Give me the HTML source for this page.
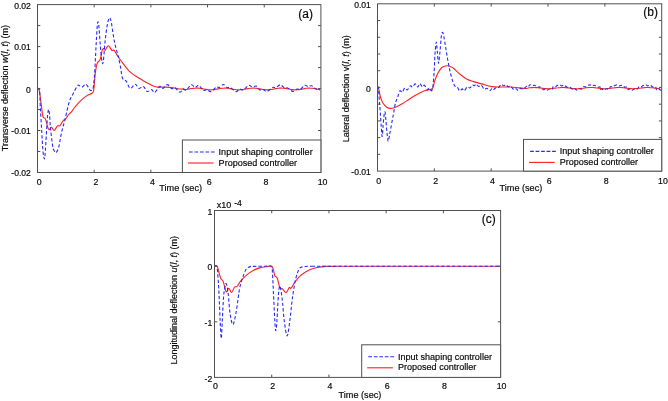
<!DOCTYPE html>
<html><head><meta charset="utf-8"><title>Figure</title>
<style>
html,body{margin:0;padding:0;background:#fff;}
svg{display:block;}
text{font-family:"Liberation Sans", Arial, Helvetica, sans-serif;fill:#0a0a0a;stroke:#0a0a0a;stroke-width:0.18px;}
</style></head>
<body>
<svg width="668" height="401" viewBox="0 0 668 401">
<rect width="668" height="401" fill="#fff"/>
<path d="M37.5,89.0C37.8,89.2 38.5,87.7 39.1,90.0C39.7,92.3 40.4,98.2 41.0,102.6C41.6,107.0 42.2,113.7 42.9,116.4C43.6,119.1 44.6,117.0 45.4,118.9C46.2,120.8 47.2,125.9 47.9,127.7C48.6,129.5 49.0,129.7 49.6,129.6C50.2,129.5 50.5,126.9 51.3,127.1C52.1,127.2 53.2,130.7 54.2,130.5C55.2,130.3 56.5,126.6 57.4,125.8C58.3,125.0 59.0,126.6 59.9,125.8C60.8,125.0 62.0,121.9 63.0,120.8C64.0,119.7 64.6,120.0 65.6,118.9C66.5,117.9 67.7,115.8 68.7,114.5C69.7,113.2 70.8,112.7 71.8,111.4C72.8,110.2 73.6,108.7 75.0,107.0C76.4,105.3 78.1,103.1 80.0,101.3C81.9,99.5 84.3,97.4 86.3,96.1C88.3,94.8 90.8,94.2 92.0,93.2C93.2,92.2 93.2,93.2 93.7,90.2C94.2,87.2 94.5,79.6 95.1,75.2C95.6,70.8 96.2,66.4 97.0,63.8C97.8,61.2 99.4,61.4 100.2,59.4C101.0,57.4 101.4,53.3 101.9,51.5C102.4,49.7 102.7,48.6 103.2,48.4C103.7,48.2 104.5,50.5 105.1,50.3C105.7,50.1 106.4,47.9 107.0,47.1C107.6,46.4 108.1,45.7 108.6,45.8C109.1,45.9 109.5,46.9 110.1,47.7C110.7,48.5 111.4,50.1 112.0,50.5C112.6,50.9 113.3,49.6 113.9,50.0C114.5,50.4 115.1,51.6 115.8,52.8C116.5,54.0 117.0,55.2 118.3,57.0C119.5,58.8 121.5,61.5 123.3,63.8C125.1,66.1 126.9,68.8 128.9,70.8C130.9,72.8 133.1,74.3 135.2,75.8C137.3,77.3 139.4,78.3 141.5,79.6C143.6,80.8 145.9,82.3 147.8,83.3C149.7,84.3 151.1,85.2 152.8,85.8C154.5,86.4 155.8,86.9 157.9,87.1C160.0,87.3 162.9,87.0 165.4,87.1C167.9,87.2 170.5,87.4 173.0,87.7C175.5,88.0 178.7,88.8 180.5,89.0C182.3,89.2 183.1,89.1 184.0,89.2C184.9,89.3 185.3,89.6 186.0,89.6C186.7,89.6 187.3,89.4 188.0,89.2C188.7,89.1 189.3,89.0 190.0,88.8C190.7,88.7 191.3,88.6 192.0,88.5C192.7,88.4 193.3,88.3 194.0,88.2C194.7,88.1 195.3,88.1 196.0,88.1C196.7,88.0 197.3,88.1 198.0,88.1C198.7,88.1 199.3,88.2 200.0,88.3C200.7,88.4 201.3,88.5 202.0,88.6C202.7,88.8 203.3,88.9 204.0,89.0C204.7,89.2 205.3,89.3 206.0,89.4C206.7,89.5 207.3,89.6 208.0,89.7C208.7,89.8 209.3,89.8 210.0,89.8C210.7,89.9 211.3,89.8 212.0,89.8C212.7,89.8 213.3,89.7 214.0,89.6C214.7,89.5 215.3,89.4 216.0,89.3C216.7,89.2 217.3,89.0 218.0,88.9C218.7,88.8 219.3,88.6 220.0,88.5C220.7,88.4 221.3,88.3 222.0,88.2C222.7,88.1 223.3,88.1 224.0,88.1C224.7,88.0 225.3,88.0 226.0,88.1C226.7,88.1 227.3,88.2 228.0,88.3C228.7,88.4 229.3,88.5 230.0,88.6C230.7,88.7 231.3,88.8 232.0,89.0C232.7,89.1 233.3,89.2 234.0,89.4C234.7,89.5 235.3,89.6 236.0,89.7C236.7,89.7 237.3,89.8 238.0,89.8C238.7,89.9 239.3,89.9 240.0,89.8C240.7,89.8 241.3,89.7 242.0,89.7C242.7,89.6 243.3,89.5 244.0,89.3C244.7,89.2 245.3,89.1 246.0,89.0C246.7,88.8 247.3,88.7 248.0,88.6C248.7,88.5 249.3,88.3 250.0,88.3C250.7,88.2 251.3,88.1 252.0,88.1C252.7,88.0 253.3,88.0 254.0,88.1C254.7,88.1 255.3,88.2 256.0,88.2C256.7,88.3 257.3,88.4 258.0,88.5C258.7,88.6 259.3,88.8 260.0,88.9C260.7,89.0 261.3,89.2 262.0,89.3C262.7,89.4 263.3,89.5 264.0,89.6C264.7,89.7 265.3,89.8 266.0,89.8C266.7,89.9 267.3,89.9 268.0,89.8C268.7,89.8 269.3,89.8 270.0,89.7C270.7,89.6 271.3,89.5 272.0,89.4C272.7,89.3 273.3,89.1 274.0,89.0C274.7,88.9 275.3,88.7 276.0,88.6C276.7,88.5 277.3,88.4 278.0,88.3C278.7,88.2 279.3,88.1 280.0,88.1C280.7,88.1 281.3,88.0 282.0,88.1C282.7,88.1 283.3,88.1 284.0,88.2C284.7,88.3 285.3,88.4 286.0,88.5C286.7,88.6 287.3,88.7 288.0,88.9C288.7,89.0 289.3,89.1 290.0,89.2C290.7,89.4 291.3,89.5 292.0,89.6C292.7,89.7 293.3,89.8 294.0,89.8C294.7,89.8 295.3,89.9 296.0,89.8C296.7,89.8 297.3,89.8 298.0,89.7C298.7,89.7 299.3,89.6 300.0,89.4C300.7,89.3 301.3,89.2 302.0,89.1C302.7,88.9 303.3,88.8 304.0,88.7C304.7,88.6 305.3,88.4 306.0,88.3C306.7,88.2 307.3,88.2 308.0,88.1C308.7,88.1 309.3,88.0 310.0,88.1C310.7,88.1 311.3,88.1 312.0,88.2C312.7,88.2 313.3,88.3 314.0,88.4C314.7,88.5 315.3,88.7 316.0,88.8C316.7,88.9 317.3,89.1 318.0,89.2C318.7,89.3 319.7,89.5 320.0,89.5" fill="none" stroke="#ff2222" stroke-width="1.12" stroke-linejoin="round"/>
<path d="M37.5,89.0C37.8,89.2 39.0,86.7 39.5,90.0C40.0,93.3 40.0,102.1 40.4,108.9C40.8,115.7 41.3,124.1 41.7,131.0C42.1,137.9 42.5,145.5 42.9,150.2C43.3,154.9 44.0,159.0 44.4,159.0C44.8,159.0 45.0,155.3 45.4,150.2C45.8,145.1 46.3,134.3 46.7,128.5C47.1,122.7 47.3,118.4 47.6,115.2C47.9,112.0 48.3,109.5 48.6,109.5C48.9,109.5 49.3,112.0 49.6,115.2C49.9,118.4 50.0,123.7 50.5,128.5C51.0,133.3 51.9,140.4 52.4,143.9C52.9,147.4 53.0,148.0 53.6,149.5C54.2,151.0 55.1,153.0 55.9,152.7C56.7,152.4 57.8,150.1 58.6,147.6C59.4,145.1 59.9,140.7 60.5,137.6C61.1,134.5 61.7,131.7 62.4,128.8C63.1,125.9 64.1,123.5 64.9,120.2C65.7,116.9 66.6,112.3 67.4,108.9C68.2,105.5 69.1,102.2 70.0,99.7C70.9,97.2 71.8,96.2 73.0,94.0C74.2,91.8 75.9,88.0 76.9,86.5C77.9,85.0 78.0,85.1 78.8,85.2C79.6,85.3 80.8,87.3 81.9,87.1C83.1,86.9 84.6,84.1 85.7,84.2C86.8,84.3 87.7,86.5 88.5,87.5C89.3,88.5 89.9,90.5 90.7,90.5C91.5,90.5 92.6,90.2 93.2,87.7C93.8,85.2 94.1,80.3 94.5,75.2C94.9,70.1 95.2,62.6 95.5,57.0C95.8,51.4 96.0,46.7 96.3,41.4C96.6,36.1 97.0,28.4 97.3,25.1C97.6,21.9 97.9,21.3 98.2,21.9C98.5,22.5 98.8,25.0 99.1,28.9C99.4,32.8 99.9,40.4 100.3,45.2C100.7,50.1 101.1,54.9 101.5,58.0C101.9,61.1 102.2,63.8 102.6,63.8C103.0,63.8 103.3,61.7 103.7,58.0C104.1,54.3 104.5,46.7 105.1,41.4C105.6,36.1 106.4,30.2 107.0,26.4C107.6,22.6 108.4,20.2 108.9,18.8C109.4,17.4 109.7,17.6 110.1,18.2C110.5,18.8 110.9,19.8 111.4,22.6C111.9,25.4 112.7,31.4 113.3,35.2C113.9,39.0 114.5,42.2 115.2,45.2C115.9,48.2 116.7,50.7 117.3,53.0C117.9,55.3 118.3,56.1 118.9,58.8C119.5,61.4 120.2,65.7 120.8,68.9C121.4,72.2 121.7,76.2 122.6,78.3C123.5,80.4 125.1,79.7 126.4,81.4C127.7,83.1 128.7,87.9 130.2,88.4C131.7,88.9 133.7,84.2 135.2,84.2C136.7,84.2 137.6,88.0 139.0,88.4C140.4,88.8 142.0,86.0 143.4,86.5C144.8,87.0 145.8,91.0 147.2,91.5C148.6,92.0 150.3,89.4 151.6,89.6C152.8,89.8 153.3,93.0 154.7,92.5C156.0,92.0 158.3,87.2 159.7,86.5C161.1,85.8 161.6,88.7 162.9,88.4C164.2,88.1 165.8,84.5 167.3,84.6C168.8,84.6 170.4,88.2 171.7,88.7C172.9,89.2 173.4,87.1 174.8,87.7C176.2,88.3 178.5,91.9 179.9,92.1C181.3,92.3 182.0,89.2 183.1,88.9C184.2,88.6 184.9,90.8 186.3,90.1C187.7,89.4 189.8,85.2 191.3,84.8C192.8,84.3 193.8,87.3 195.1,87.4C196.4,87.5 197.5,84.8 198.9,85.3C200.3,85.8 202.0,89.7 203.3,90.4C204.7,91.1 205.8,89.3 207.0,89.5C208.2,89.7 209.2,92.0 210.8,91.6C212.4,91.2 215.1,87.7 216.5,87.0C217.9,86.3 217.8,88.0 219.0,87.6C220.2,87.2 222.0,84.5 223.4,84.5C224.8,84.5 226.0,87.1 227.2,87.6C228.3,88.1 228.8,86.9 230.3,87.6C231.8,88.3 234.4,91.3 236.0,91.6C237.6,91.8 238.4,89.4 239.7,89.1C240.9,88.8 242.0,90.5 243.5,89.9C245.0,89.3 247.1,85.8 248.6,85.3C250.1,84.8 251.1,86.9 252.3,87.0C253.6,87.1 254.9,85.6 256.1,86.1C257.3,86.6 258.4,89.3 259.6,89.9C260.8,90.5 262.0,89.2 263.2,89.5C264.4,89.8 265.4,91.8 267.0,91.4C268.6,91.1 271.1,88.0 272.6,87.4C274.1,86.8 274.5,88.0 275.8,87.6C277.1,87.2 278.8,84.8 280.2,84.8C281.6,84.8 282.8,86.9 284.0,87.4C285.2,87.9 286.2,87.2 287.7,87.9C289.2,88.6 291.2,91.2 292.8,91.4C294.4,91.6 295.9,89.4 297.2,89.1C298.4,88.8 299.1,90.1 300.3,89.5C301.6,88.9 303.4,85.8 304.7,85.3C306.0,84.8 306.8,86.5 307.9,86.6C309.0,86.7 310.2,85.4 311.6,85.8C313.0,86.2 314.6,88.4 316.0,89.1C317.4,89.8 319.3,89.8 320.0,89.9" fill="none" stroke="#2828ff" stroke-width="1.1" stroke-dasharray="3.3 2.1" stroke-linejoin="round"/>
<g stroke="#505050" stroke-width="1" fill="none">
<rect x="37.5" y="4.6" width="283.4" height="167.9"/>
<line x1="94.18" y1="172.50" x2="94.18" y2="169.70" />
<line x1="94.18" y1="4.60" x2="94.18" y2="7.40" />
<line x1="150.86" y1="172.50" x2="150.86" y2="169.70" />
<line x1="150.86" y1="4.60" x2="150.86" y2="7.40" />
<line x1="207.54" y1="172.50" x2="207.54" y2="169.70" />
<line x1="207.54" y1="4.60" x2="207.54" y2="7.40" />
<line x1="264.22" y1="172.50" x2="264.22" y2="169.70" />
<line x1="264.22" y1="4.60" x2="264.22" y2="7.40" />
<line x1="37.50" y1="25.59" x2="40.30" y2="25.59" />
<line x1="320.90" y1="25.59" x2="318.10" y2="25.59" />
<line x1="37.50" y1="46.58" x2="40.30" y2="46.58" />
<line x1="320.90" y1="46.58" x2="318.10" y2="46.58" />
<line x1="37.50" y1="67.56" x2="40.30" y2="67.56" />
<line x1="320.90" y1="67.56" x2="318.10" y2="67.56" />
<line x1="37.50" y1="88.55" x2="40.30" y2="88.55" />
<line x1="320.90" y1="88.55" x2="318.10" y2="88.55" />
<line x1="37.50" y1="109.54" x2="40.30" y2="109.54" />
<line x1="320.90" y1="109.54" x2="318.10" y2="109.54" />
<line x1="37.50" y1="130.53" x2="40.30" y2="130.53" />
<line x1="320.90" y1="130.53" x2="318.10" y2="130.53" />
<line x1="37.50" y1="151.51" x2="40.30" y2="151.51" />
<line x1="320.90" y1="151.51" x2="318.10" y2="151.51" />
</g>
<text x="39.20" y="184.80" font-size="8.8" text-anchor="middle" >0</text>
<text x="95.88" y="184.80" font-size="8.8" text-anchor="middle" >2</text>
<text x="152.56" y="184.80" font-size="8.8" text-anchor="middle" >4</text>
<text x="209.24" y="184.80" font-size="8.8" text-anchor="middle" >6</text>
<text x="265.92" y="184.80" font-size="8.8" text-anchor="middle" >8</text>
<text x="322.60" y="184.80" font-size="8.8" text-anchor="middle" >10</text>
<text x="30.90" y="8.70" font-size="8.6" text-anchor="end" >0.02</text>
<text x="30.90" y="50.10" font-size="8.6" text-anchor="end" >0.01</text>
<text x="30.90" y="92.60" font-size="8.6" text-anchor="end" >0</text>
<text x="30.90" y="134.40" font-size="8.6" text-anchor="end" >-0.01</text>
<text x="30.90" y="175.90" font-size="8.6" text-anchor="end" >-0.02</text>
<text x="180.65" y="191.40" font-size="9.15" text-anchor="middle" >Time (sec)</text>
<text transform="translate(8.00,88.00) rotate(-90)" font-size="9" text-anchor="middle">Transverse deflection <tspan font-style="italic">w</tspan>(<tspan font-style="italic">l</tspan>, <tspan font-style="italic">t</tspan>) (m)</text>
<text x="313.00" y="17.50" font-size="12" text-anchor="end" >(a)</text>
<rect x="182.4" y="140.0" width="138.49999999999997" height="32.5" fill="#fff" stroke="#505050" stroke-width="1"/>
<line x1="189.0" y1="152.0" x2="215.10000000000002" y2="152.0" stroke="#2828ff" stroke-width="1.1" stroke-dasharray="3.7 1.8"/>
<line x1="187.9" y1="163.0" x2="213.6" y2="163.0" stroke="#ff2222" stroke-width="1.12"/>
<text x="218.60" y="154.70" font-size="9.05" text-anchor="start" >Input shaping controller</text>
<text x="218.60" y="165.60" font-size="9.05" text-anchor="start" >Proposed controller</text>
<path d="M377.5,87.5C377.6,87.5 377.9,86.2 378.4,87.7C378.9,89.2 379.6,94.0 380.3,96.5C381.0,99.0 381.8,101.0 382.8,102.8C383.9,104.6 385.3,106.3 386.6,107.2C387.9,108.1 389.0,108.4 390.4,108.4C391.8,108.5 392.9,108.2 394.8,107.5C396.7,106.8 399.3,105.4 401.7,104.0C404.1,102.6 406.7,100.8 409.2,99.2C411.7,97.6 414.3,96.0 416.8,94.6C419.3,93.2 422.0,91.7 424.3,90.8C426.6,89.9 429.2,89.9 430.6,89.4C432.0,88.9 432.2,89.2 432.9,87.7C433.6,86.2 434.1,82.6 435.0,80.1C435.9,77.6 437.1,74.7 438.2,72.6C439.3,70.5 440.4,68.7 441.9,67.5C443.4,66.3 445.3,65.7 447.0,65.7C448.7,65.7 450.8,66.8 452.0,67.3C453.2,67.8 452.7,67.6 454.1,68.8C455.5,70.0 458.3,72.8 460.4,74.5C462.5,76.2 464.5,77.8 466.6,78.9C468.7,80.1 470.4,80.6 472.9,81.4C475.4,82.2 478.5,83.0 481.7,83.9C484.9,84.8 488.6,86.1 491.8,86.6C495.0,87.1 497.5,86.9 500.6,87.0C503.8,87.1 507.6,86.8 510.7,87.0C513.9,87.2 517.0,87.7 519.5,87.9C522.0,88.2 524.6,88.5 526.0,88.5C527.4,88.5 527.3,88.1 528.0,88.0C528.7,87.8 529.3,87.8 530.0,87.7C530.7,87.7 531.3,87.6 532.0,87.6C532.7,87.5 533.3,87.5 534.0,87.5C534.7,87.5 535.3,87.5 536.0,87.6C536.7,87.6 537.3,87.7 538.0,87.7C538.7,87.8 539.3,87.9 540.0,88.0C540.7,88.0 541.3,88.1 542.0,88.2C542.7,88.3 543.3,88.4 544.0,88.5C544.7,88.5 545.3,88.6 546.0,88.6C546.7,88.7 547.3,88.7 548.0,88.7C548.7,88.7 549.3,88.7 550.0,88.7C550.7,88.6 551.3,88.6 552.0,88.5C552.7,88.4 553.3,88.4 554.0,88.3C554.7,88.2 555.3,88.1 556.0,88.0C556.7,87.9 557.3,87.8 558.0,87.8C558.7,87.7 559.3,87.6 560.0,87.6C560.7,87.5 561.3,87.5 562.0,87.5C562.7,87.5 563.3,87.5 564.0,87.5C564.7,87.6 565.3,87.6 566.0,87.7C566.7,87.7 567.3,87.8 568.0,87.9C568.7,88.0 569.3,88.1 570.0,88.2C570.7,88.3 571.3,88.3 572.0,88.4C572.7,88.5 573.3,88.6 574.0,88.6C574.7,88.7 575.3,88.7 576.0,88.7C576.7,88.7 577.3,88.7 578.0,88.7C578.7,88.6 579.3,88.6 580.0,88.5C580.7,88.5 581.3,88.4 582.0,88.3C582.7,88.2 583.3,88.1 584.0,88.1C584.7,88.0 585.3,87.9 586.0,87.8C586.7,87.7 587.3,87.7 588.0,87.6C588.7,87.6 589.3,87.5 590.0,87.5C590.7,87.5 591.3,87.5 592.0,87.5C592.7,87.5 593.3,87.6 594.0,87.6C594.7,87.7 595.3,87.8 596.0,87.9C596.7,87.9 597.3,88.0 598.0,88.1C598.7,88.2 599.3,88.3 600.0,88.4C600.7,88.4 601.3,88.5 602.0,88.6C602.7,88.6 603.3,88.7 604.0,88.7C604.7,88.7 605.3,88.7 606.0,88.7C606.7,88.7 607.3,88.6 608.0,88.6C608.7,88.5 609.3,88.4 610.0,88.4C610.7,88.3 611.3,88.2 612.0,88.1C612.7,88.0 613.3,87.9 614.0,87.9C614.7,87.8 615.3,87.7 616.0,87.6C616.7,87.6 617.3,87.5 618.0,87.5C618.7,87.5 619.3,87.5 620.0,87.5C620.7,87.5 621.3,87.6 622.0,87.6C622.7,87.7 623.3,87.7 624.0,87.8C624.7,87.9 625.3,88.0 626.0,88.1C626.7,88.1 627.3,88.2 628.0,88.3C628.7,88.4 629.3,88.5 630.0,88.5C630.7,88.6 631.3,88.6 632.0,88.7C632.7,88.7 633.3,88.7 634.0,88.7C634.7,88.7 635.3,88.7 636.0,88.6C636.7,88.6 637.3,88.5 638.0,88.4C638.7,88.3 639.3,88.3 640.0,88.2C640.7,88.1 641.3,88.0 642.0,87.9C642.7,87.8 643.3,87.7 644.0,87.7C644.7,87.6 645.3,87.6 646.0,87.5C646.7,87.5 647.3,87.5 648.0,87.5C648.7,87.5 649.3,87.5 650.0,87.6C650.7,87.6 651.3,87.7 652.0,87.8C652.7,87.8 653.3,87.9 654.0,88.0C654.7,88.1 655.3,88.2 656.0,88.3C656.7,88.4 657.3,88.4 658.0,88.5C658.7,88.6 659.7,88.6 660.0,88.7" fill="none" stroke="#ff2222" stroke-width="1.12" stroke-linejoin="round"/>
<path d="M377.5,87.5C377.6,87.5 378.1,85.6 378.4,87.7C378.7,89.8 379.0,95.8 379.3,100.0C379.6,104.2 380.0,108.0 380.3,112.6C380.6,117.2 381.0,123.7 381.3,127.7C381.6,131.7 381.9,136.9 382.2,136.5C382.5,136.1 382.8,128.8 383.1,125.2C383.4,121.6 383.8,117.3 384.1,115.1C384.4,112.9 384.8,111.0 385.1,112.0C385.4,113.0 385.7,118.0 386.0,121.4C386.3,124.9 386.6,129.4 387.0,132.7C387.4,136.0 387.8,141.1 388.2,141.3C388.6,141.5 389.1,136.9 389.7,134.0C390.3,131.1 391.0,127.3 391.6,123.9C392.2,120.5 393.0,116.7 393.5,113.8C394.0,110.9 394.4,108.4 394.8,106.3C395.2,104.2 395.5,102.9 396.0,101.3C396.5,99.7 397.3,98.2 397.9,96.5C398.5,94.8 399.1,91.5 399.8,90.8C400.5,90.1 401.5,92.6 402.3,92.1C403.1,91.6 404.0,88.3 404.8,87.9C405.6,87.5 406.4,90.2 407.3,89.9C408.2,89.6 409.6,86.3 410.5,85.8C411.4,85.3 411.6,87.3 412.4,87.0C413.2,86.7 414.4,83.9 415.3,83.9C416.2,83.9 417.0,87.0 417.8,87.0C418.6,87.0 419.1,83.6 419.9,83.6C420.7,83.6 421.7,86.7 422.4,87.0C423.1,87.3 423.4,84.8 424.3,85.2C425.2,85.6 426.7,89.1 427.5,89.6C428.3,90.1 428.6,88.1 429.3,88.3C430.0,88.5 431.0,91.3 431.6,90.8C432.2,90.3 432.7,88.2 433.1,85.2C433.5,82.2 433.8,76.8 434.1,72.6C434.4,68.4 434.5,63.5 434.7,60.0C434.9,56.5 434.9,54.4 435.2,51.4C435.5,48.4 435.9,42.0 436.3,42.0C436.7,42.0 436.9,47.8 437.3,51.4C437.7,55.0 438.1,63.4 438.5,63.4C438.9,63.4 439.5,55.9 440.0,51.4C440.5,46.9 440.9,39.6 441.3,36.4C441.7,33.2 442.2,32.3 442.6,32.3C443.0,32.3 443.3,33.8 443.8,36.4C444.3,39.0 445.1,43.9 445.7,47.7C446.3,51.5 447.0,55.6 447.6,59.0C448.2,62.4 448.8,65.6 449.3,68.0C449.8,70.4 449.9,71.3 450.5,73.5C451.1,75.7 452.1,79.4 452.8,81.4C453.5,83.5 454.0,84.9 454.7,85.8C455.4,86.7 456.4,86.2 457.2,87.0C458.0,87.8 458.9,90.5 459.7,90.8C460.5,91.1 461.5,88.9 462.2,88.9C462.9,88.9 463.2,91.1 464.1,90.8C465.0,90.5 466.4,87.5 467.3,87.0C468.2,86.5 468.9,88.2 469.8,87.9C470.7,87.6 472.0,85.6 472.7,85.2C473.4,84.8 473.6,86.0 474.2,85.8C474.8,85.6 475.4,84.1 476.1,84.2C476.8,84.3 477.8,86.2 478.6,86.4C479.4,86.6 480.2,84.7 481.1,85.2C482.1,85.7 483.4,88.7 484.3,89.2C485.2,89.7 485.9,88.1 486.8,88.3C487.7,88.5 489.1,90.5 489.9,90.6C490.7,90.7 491.3,88.8 491.8,88.7C492.3,88.6 492.3,90.2 493.1,89.9C493.9,89.6 495.9,87.4 496.8,87.0C497.7,86.6 498.0,87.8 498.7,87.4C499.4,87.0 500.4,84.8 501.2,84.5C502.0,84.2 503.0,85.8 503.7,85.8C504.4,85.8 504.9,84.6 505.6,84.8C506.4,85.0 507.4,86.5 508.2,86.7C509.0,86.9 509.8,85.7 510.7,86.2C511.6,86.7 512.9,89.2 513.8,89.6C514.7,90.0 515.6,88.6 516.3,88.7C517.0,88.8 517.5,90.5 518.2,90.4C518.9,90.3 519.9,88.5 520.7,88.3C521.5,88.1 522.2,89.5 523.2,89.2C524.2,88.9 525.6,86.8 526.4,86.4C527.2,86.0 527.4,87.3 528.0,87.0C528.6,86.7 529.3,84.9 530.0,84.7C530.7,84.5 531.5,85.8 532.2,85.9C533.0,86.0 533.6,85.0 534.5,85.2C535.4,85.4 536.6,86.9 537.5,87.2C538.4,87.5 539.0,86.6 540.0,87.0C541.0,87.4 542.5,89.4 543.4,89.7C544.3,90.0 544.7,88.8 545.4,88.9C546.1,89.0 546.6,90.1 547.4,90.1C548.1,90.1 549.1,88.9 549.9,88.7C550.7,88.5 551.9,89.4 552.4,89.1C552.9,88.8 552.6,87.0 553.1,86.6C553.6,86.2 554.4,87.1 555.1,86.9C555.8,86.7 556.4,86.0 557.1,85.6C557.9,85.2 558.8,84.7 559.6,84.7C560.4,84.8 561.1,85.8 561.8,85.9C562.6,86.0 563.2,85.0 564.1,85.2C565.0,85.4 566.2,86.9 567.1,87.2C568.0,87.5 568.6,86.6 569.6,87.0C570.6,87.4 572.1,89.4 573.0,89.7C573.9,90.0 574.3,88.8 575.0,88.9C575.7,89.0 576.2,90.1 577.0,90.1C577.8,90.1 578.7,88.9 579.5,88.7C580.3,88.5 581.3,89.4 582.0,89.1C582.7,88.8 582.9,87.0 583.5,86.6C584.1,86.2 584.8,87.1 585.5,86.9C586.2,86.7 586.8,86.0 587.5,85.6C588.2,85.2 589.2,84.7 590.0,84.7C590.8,84.8 591.5,85.8 592.2,85.9C593.0,86.0 593.6,85.0 594.5,85.2C595.4,85.4 596.6,86.9 597.5,87.2C598.4,87.5 599.6,86.6 600.0,87.0C600.4,87.4 599.6,89.4 599.9,89.7C600.2,90.0 601.2,88.8 601.9,88.9C602.6,89.0 603.1,90.1 603.9,90.1C604.6,90.1 605.6,88.9 606.4,88.7C607.2,88.5 608.2,89.4 608.9,89.1C609.6,88.8 610.1,87.0 610.8,86.6C611.4,86.2 612.1,87.1 612.8,86.9C613.5,86.7 614.0,86.0 614.8,85.6C615.5,85.2 616.5,84.7 617.3,84.7C618.1,84.8 618.8,85.8 619.5,85.9C620.2,86.0 620.9,85.0 621.8,85.2C622.7,85.4 623.9,86.9 624.8,87.2C625.7,87.5 626.7,86.6 627.3,87.0C627.9,87.4 627.7,89.4 628.2,89.7C628.7,90.0 629.5,88.8 630.2,88.9C630.9,89.0 631.5,90.1 632.2,90.1C633.0,90.1 633.9,88.9 634.7,88.7C635.5,88.5 636.5,89.4 637.2,89.1C637.9,88.8 638.5,87.0 639.1,86.6C639.8,86.2 640.4,87.1 641.1,86.9C641.8,86.7 642.4,86.0 643.1,85.6C643.9,85.2 644.8,84.7 645.6,84.7C646.4,84.8 647.1,85.8 647.8,85.9C648.6,86.0 649.2,85.0 650.1,85.2C651.0,85.4 652.2,86.9 653.1,87.2C654.0,87.5 655.0,86.6 655.6,87.0C656.2,87.4 656.0,89.4 656.5,89.7C657.0,90.0 657.8,88.8 658.5,88.9C659.2,89.0 660.0,90.0 660.5,90.1C661.0,90.2 661.3,89.7 661.5,89.6" fill="none" stroke="#2828ff" stroke-width="1.1" stroke-dasharray="3.3 2.1" stroke-linejoin="round"/>
<g stroke="#505050" stroke-width="1" fill="none">
<rect x="377.5" y="3.8" width="284.20000000000005" height="167.29999999999998"/>
<line x1="434.34" y1="171.10" x2="434.34" y2="168.30" />
<line x1="434.34" y1="3.80" x2="434.34" y2="6.60" />
<line x1="491.18" y1="171.10" x2="491.18" y2="168.30" />
<line x1="491.18" y1="3.80" x2="491.18" y2="6.60" />
<line x1="548.02" y1="171.10" x2="548.02" y2="168.30" />
<line x1="548.02" y1="3.80" x2="548.02" y2="6.60" />
<line x1="604.86" y1="171.10" x2="604.86" y2="168.30" />
<line x1="604.86" y1="3.80" x2="604.86" y2="6.60" />
<line x1="377.50" y1="20.53" x2="380.30" y2="20.53" />
<line x1="661.70" y1="20.53" x2="658.90" y2="20.53" />
<line x1="377.50" y1="37.26" x2="380.30" y2="37.26" />
<line x1="661.70" y1="37.26" x2="658.90" y2="37.26" />
<line x1="377.50" y1="53.99" x2="380.30" y2="53.99" />
<line x1="661.70" y1="53.99" x2="658.90" y2="53.99" />
<line x1="377.50" y1="70.72" x2="380.30" y2="70.72" />
<line x1="661.70" y1="70.72" x2="658.90" y2="70.72" />
<line x1="377.50" y1="87.45" x2="380.30" y2="87.45" />
<line x1="661.70" y1="87.45" x2="658.90" y2="87.45" />
<line x1="377.50" y1="104.18" x2="380.30" y2="104.18" />
<line x1="661.70" y1="104.18" x2="658.90" y2="104.18" />
<line x1="377.50" y1="120.91" x2="380.30" y2="120.91" />
<line x1="661.70" y1="120.91" x2="658.90" y2="120.91" />
<line x1="377.50" y1="137.64" x2="380.30" y2="137.64" />
<line x1="661.70" y1="137.64" x2="658.90" y2="137.64" />
<line x1="377.50" y1="154.37" x2="380.30" y2="154.37" />
<line x1="661.70" y1="154.37" x2="658.90" y2="154.37" />
</g>
<text x="378.80" y="183.80" font-size="8.8" text-anchor="middle" >0</text>
<text x="435.64" y="183.80" font-size="8.8" text-anchor="middle" >2</text>
<text x="492.48" y="183.80" font-size="8.8" text-anchor="middle" >4</text>
<text x="549.32" y="183.80" font-size="8.8" text-anchor="middle" >6</text>
<text x="606.16" y="183.80" font-size="8.8" text-anchor="middle" >8</text>
<text x="663.00" y="183.80" font-size="8.8" text-anchor="middle" >10</text>
<text x="370.90" y="8.00" font-size="8.6" text-anchor="end" >0.01</text>
<text x="370.90" y="91.90" font-size="8.6" text-anchor="end" >0</text>
<text x="370.90" y="175.30" font-size="8.6" text-anchor="end" >-0.01</text>
<text x="520.90" y="191.30" font-size="9.15" text-anchor="middle" >Time (sec)</text>
<text transform="translate(348.60,88.80) rotate(-90)" font-size="9" text-anchor="middle">Lateral deflection v(<tspan font-style="italic">l</tspan>, <tspan font-style="italic">t</tspan>) (m)</text>
<text x="657.90" y="16.30" font-size="12" text-anchor="end" >(b)</text>
<rect x="523.5" y="139.4" width="138.20000000000005" height="31.69999999999999" fill="#fff" stroke="#505050" stroke-width="1"/>
<line x1="530.1" y1="151.4" x2="556.2" y2="151.4" stroke="#2828ff" stroke-width="1.1" stroke-dasharray="3.7 1.8"/>
<line x1="529.0" y1="162.4" x2="554.7" y2="162.4" stroke="#ff2222" stroke-width="1.12"/>
<text x="559.70" y="154.10" font-size="9.05" text-anchor="start" >Input shaping controller</text>
<text x="559.70" y="165.00" font-size="9.05" text-anchor="start" >Proposed controller</text>
<path d="M214.5,266.3C215.0,266.4 216.3,264.8 217.3,266.8C218.3,268.8 219.7,275.9 220.7,278.3C221.7,280.7 222.4,279.3 223.2,281.4C224.0,283.5 225.1,289.1 225.7,290.8C226.3,292.5 226.5,291.9 227.0,291.5C227.5,291.1 228.1,288.1 228.9,288.3C229.7,288.5 230.7,292.7 231.6,292.5C232.5,292.3 233.6,288.1 234.5,287.1C235.4,286.1 235.9,287.4 237.0,286.4C238.1,285.3 239.2,282.7 240.8,280.8C242.4,278.9 244.5,276.8 246.5,275.1C248.5,273.4 250.5,271.9 252.8,270.7C255.1,269.4 258.0,268.3 260.3,267.6C262.6,266.9 264.7,266.8 266.6,266.6C268.5,266.4 270.5,265.7 271.6,266.3C272.8,266.9 273.0,268.5 273.5,270.1C274.0,271.7 274.2,274.4 274.8,275.8C275.4,277.2 276.5,276.3 277.3,278.3C278.1,280.3 279.0,286.0 279.8,287.7C280.6,289.4 281.2,287.9 282.3,288.7C283.4,289.5 284.9,292.8 286.1,292.6C287.3,292.4 288.5,288.2 289.3,287.5C290.1,286.8 290.3,289.0 291.2,288.2C292.1,287.4 293.0,284.8 294.5,282.7C296.0,280.6 298.1,277.7 300.1,275.8C302.1,273.9 304.1,272.7 306.4,271.4C308.7,270.1 311.1,269.0 314.0,268.2C316.9,267.4 319.7,266.9 324.0,266.6C328.3,266.3 310.6,266.4 340.0,266.3C369.4,266.2 473.8,266.3 500.5,266.3" fill="none" stroke="#ff2222" stroke-width="1.12" stroke-linejoin="round"/>
<path d="M214.5,266.3C214.9,266.4 216.3,264.5 216.9,266.8C217.5,269.1 217.8,275.0 218.2,280.2C218.6,285.4 218.9,291.3 219.2,298.0C219.5,304.7 219.8,313.5 220.1,320.2C220.4,326.9 220.9,338.4 221.3,338.4C221.7,338.4 221.9,326.9 222.3,320.2C222.7,313.5 223.1,303.1 223.5,298.0C223.9,292.9 224.1,291.9 224.5,289.5C224.9,287.1 225.6,283.3 226.1,283.3C226.6,283.3 227.2,287.1 227.6,289.5C228.0,291.9 228.2,293.9 228.6,298.0C229.0,302.1 229.4,309.5 230.1,313.9C230.8,318.3 231.9,324.6 232.9,324.6C233.9,324.6 234.9,318.3 235.8,313.9C236.7,309.5 237.6,302.1 238.2,298.0C238.8,293.9 239.0,291.8 239.5,289.0C240.0,286.2 240.7,283.9 241.4,281.4C242.2,278.9 243.2,276.0 244.0,273.9C244.8,271.8 245.4,270.0 246.5,268.8C247.6,267.6 248.7,267.0 250.3,266.6C251.9,266.2 253.7,266.4 256.0,266.3C258.3,266.2 261.4,266.3 264.0,266.3C266.6,266.3 270.0,265.0 271.4,266.3C272.8,267.6 272.1,269.3 272.5,273.9C272.9,278.5 273.1,286.3 273.5,294.0C273.9,301.7 274.4,314.1 274.8,320.2C275.2,326.3 275.4,330.8 275.8,330.8C276.2,330.8 276.6,326.3 277.0,320.2C277.4,314.1 278.0,299.7 278.5,294.0C279.0,288.3 279.3,286.1 279.8,285.8C280.3,285.6 280.8,289.6 281.3,292.5C281.8,295.4 282.1,298.4 282.6,303.0C283.1,307.6 283.4,314.7 284.2,320.2C284.9,325.7 286.2,335.9 287.1,335.9C288.1,335.9 289.1,325.7 289.9,320.2C290.7,314.7 291.2,307.6 291.8,303.0C292.4,298.4 292.6,296.3 293.2,292.7C293.8,289.1 294.4,284.8 295.1,281.4C295.8,278.0 296.8,274.9 297.6,272.6C298.4,270.3 298.8,268.8 300.1,267.8C301.4,266.8 303.2,266.8 305.2,266.5C307.2,266.2 307.9,266.3 312.0,266.3C316.1,266.3 298.6,266.3 330.0,266.3C361.4,266.3 472.1,266.3 500.5,266.3" fill="none" stroke="#2828ff" stroke-width="1.1" stroke-dasharray="3.3 2.1" stroke-linejoin="round"/>
<g stroke="#505050" stroke-width="1" fill="none">
<rect x="214.5" y="210.5" width="286.1" height="166.89999999999998"/>
<line x1="271.72" y1="377.40" x2="271.72" y2="374.60" />
<line x1="271.72" y1="210.50" x2="271.72" y2="213.30" />
<line x1="328.94" y1="377.40" x2="328.94" y2="374.60" />
<line x1="328.94" y1="210.50" x2="328.94" y2="213.30" />
<line x1="386.16" y1="377.40" x2="386.16" y2="374.60" />
<line x1="386.16" y1="210.50" x2="386.16" y2="213.30" />
<line x1="443.38" y1="377.40" x2="443.38" y2="374.60" />
<line x1="443.38" y1="210.50" x2="443.38" y2="213.30" />
<line x1="214.50" y1="266.30" x2="217.30" y2="266.30" />
<line x1="500.60" y1="266.30" x2="497.80" y2="266.30" />
<line x1="214.50" y1="321.80" x2="217.30" y2="321.80" />
<line x1="500.60" y1="321.80" x2="497.80" y2="321.80" />
</g>
<text x="215.50" y="389.40" font-size="8.8" text-anchor="middle" >0</text>
<text x="272.72" y="389.40" font-size="8.8" text-anchor="middle" >2</text>
<text x="329.94" y="389.40" font-size="8.8" text-anchor="middle" >4</text>
<text x="387.16" y="389.40" font-size="8.8" text-anchor="middle" >6</text>
<text x="444.38" y="389.40" font-size="8.8" text-anchor="middle" >8</text>
<text x="501.60" y="389.40" font-size="8.8" text-anchor="middle" >10</text>
<text x="212.20" y="214.60" font-size="8.6" text-anchor="end" >1</text>
<text x="212.20" y="270.30" font-size="8.6" text-anchor="end" >0</text>
<text x="212.20" y="325.90" font-size="8.6" text-anchor="end" >-1</text>
<text x="212.20" y="381.80" font-size="8.6" text-anchor="end" >-2</text>
<text x="360.00" y="398.00" font-size="9.15" text-anchor="middle" >Time (sec)</text>
<text transform="translate(177.00,300.30) rotate(-90)" font-size="9" text-anchor="middle">Longitudinal deflection <tspan font-style="italic">u</tspan>(<tspan font-style="italic">l</tspan>, <tspan font-style="italic">t</tspan>) (m)</text>
<text x="495.70" y="223.20" font-size="12" text-anchor="end" >(c)</text>
<rect x="361.7" y="344.8" width="138.90000000000003" height="32.599999999999966" fill="#fff" stroke="#505050" stroke-width="1"/>
<line x1="368.3" y1="356.8" x2="394.4" y2="356.8" stroke="#2828ff" stroke-width="1.1" stroke-dasharray="3.7 1.8"/>
<line x1="367.2" y1="367.8" x2="392.9" y2="367.8" stroke="#ff2222" stroke-width="1.12"/>
<text x="397.90" y="359.50" font-size="9.05" text-anchor="start" >Input shaping controller</text>
<text x="397.90" y="370.40" font-size="9.05" text-anchor="start" >Proposed controller</text>
<text x="216.80" y="207.70" font-size="9" text-anchor="start" >x10</text>
<text x="234.20" y="205.80" font-size="8.6" text-anchor="start" >-4</text>
</svg>
</body></html>
